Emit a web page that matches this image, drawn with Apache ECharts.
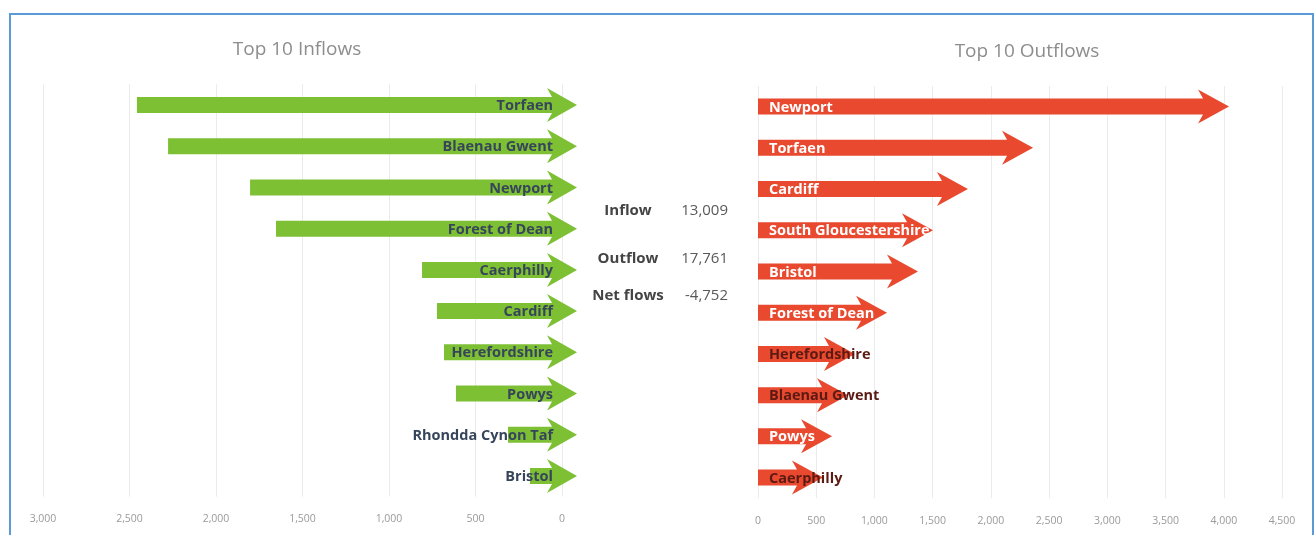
<!DOCTYPE html>
<html>
<head>
<meta charset="utf-8">
<script src="https://cdn.jsdelivr.net/npm/echarts@6/dist/echarts.min.js"></script>
<style>
html,body{margin:0;padding:0;background:#fff;}
#chart{width:1316px;height:535px;}
</style>
</head>
<body>
<div id="chart"></div>
<script>
// ---- data ----
const inflowNames = ['Torfaen','Blaenau Gwent','Newport','Forest of Dean','Caerphilly','Cardiff','Herefordshire','Powys','Rhondda Cynon Taf','Bristol'];
const inflowValues = [2457, 2277, 1803, 1653, 809, 723, 682, 613, 312, 185];
const outflowNames = ['Newport','Torfaen','Cardiff','South Gloucestershire','Bristol','Forest of Dean','Herefordshire','Blaenau Gwent','Powys','Caerphilly'];
const outflowValues = [4045, 2362, 1803, 1503, 1374, 1108, 833, 773, 636, 558];
const outflowLabelDark = [false,false,false,false,false,false,true,true,false,true];
const summaryLabels = ['Inflow','Outflow','Net flows'];
const summaryValues = ['13,009','17,761','-4,752'];
const titles = ['Top 10 Inflows','Top 10 Outflows'];

const GREEN = '#7dc034';
const RED = '#e8492f';
const LABEL_FONT = '"Open Sans", sans-serif';

const chart = echarts.init(document.getElementById('chart'));
const fmt = v => v.toLocaleString('en-US');

function leftArrow(params, api) {
  const yi = api.value(1);
  const tail = api.coord([api.value(0), yi]);
  const zero = api.coord([0, yi]);
  const cy = zero[1];
  const sh = 8, hh = 17;
  const back = zero[0] - 15, tip = zero[0] + 15;
  return {
    type: 'group',
    children: [
      { type: 'polygon', shape: { points: [
          [tail[0], cy - sh], [back + 5, cy - sh], [back, cy - hh], [tip, cy],
          [back, cy + hh], [back + 5, cy + sh], [tail[0], cy + sh]
        ] }, style: { fill: GREEN } },
      { type: 'text', style: { text: inflowNames[params.dataIndex], x: zero[0] - 9, y: cy + 1,
          align: 'right', verticalAlign: 'middle', fill: '#37455a',
          fontFamily: LABEL_FONT, fontSize: 14.5, fontWeight: 700 } }
    ]
  };
}
function rightArrow(params, api) {
  const yi = api.value(1);
  const tipP = api.coord([api.value(0), yi]);
  const zero = api.coord([0, yi]);
  const cy = zero[1];
  const sh = 8, hh = 17;
  const tip = tipP[0], back = tip - 31;
  const dark = outflowLabelDark[params.dataIndex];
  return {
    type: 'group',
    children: [
      { type: 'polygon', shape: { points: [
          [zero[0], cy - sh], [back + 5, cy - sh], [back, cy - hh], [tip, cy],
          [back, cy + hh], [back + 5, cy + sh], [zero[0], cy + sh]
        ] }, style: { fill: RED } },
      { type: 'text', style: { text: outflowNames[params.dataIndex], x: zero[0] + 11, y: cy + 1,
          align: 'left', verticalAlign: 'middle', fill: dark ? '#5b1a12' : '#ffffff',
          fontFamily: LABEL_FONT, fontSize: 14.5, fontWeight: 700 } }
    ]
  };
}

const axisLabelStyle = { color: '#9a9a9a', fontSize: 10.5, fontFamily: LABEL_FONT, margin: 17, formatter: fmt };
const splitLineStyle = { show: true, lineStyle: { color: '#ebebeb', width: 1 } };

const summaryGraphics = [];
const summaryY = [211, 259, 296];
summaryLabels.forEach((t, i) => {
  summaryGraphics.push({ type: 'text', x: 628, y: summaryY[i],
    style: { text: t, align: 'center', verticalAlign: 'middle', fill: '#444444',
      fontFamily: LABEL_FONT, fontSize: 15, fontWeight: 700 } });
  summaryGraphics.push({ type: 'text', x: 728, y: summaryY[i],
    style: { text: summaryValues[i], align: 'right', verticalAlign: 'middle', fill: '#595959',
      fontFamily: LABEL_FONT, fontSize: 15, fontWeight: 400 } });
});

chart.setOption({
  animation: false,
  backgroundColor: '#ffffff',
  title: [
    { text: titles[0], left: 297, top: 40, textAlign: 'center', padding: 0,
      textStyle: { color: '#8d8d8d', fontSize: 19, fontWeight: 400, fontFamily: LABEL_FONT } },
    { text: titles[1], left: 1027, top: 42, textAlign: 'center', padding: 0,
      textStyle: { color: '#8d8d8d', fontSize: 19, fontWeight: 400, fontFamily: LABEL_FONT } }
  ],
  grid: [
    { left: 43, width: 519, top: 84.4, height: 412.2 },
    { left: 758, width: 524, top: 86, height: 412.2 }
  ],
  xAxis: [
    { gridIndex: 0, type: 'value', inverse: true, min: 0, max: 3000, interval: 500,
      axisLine: { show: false }, axisTick: { show: false }, axisLabel: axisLabelStyle, splitLine: splitLineStyle },
    { gridIndex: 1, type: 'value', min: 0, max: 4500, interval: 500,
      axisLine: { show: false }, axisTick: { show: false }, axisLabel: axisLabelStyle, splitLine: splitLineStyle }
  ],
  yAxis: [
    { gridIndex: 0, type: 'category', inverse: true, data: inflowNames, show: false },
    { gridIndex: 1, type: 'category', inverse: true, data: outflowNames, show: false }
  ],
  series: [
    { type: 'custom', xAxisIndex: 0, yAxisIndex: 0, renderItem: leftArrow, clip: false,
      encode: { x: 0, y: 1 }, data: inflowValues.map((v, i) => [v, i]) },
    { type: 'custom', xAxisIndex: 1, yAxisIndex: 1, renderItem: rightArrow, clip: false,
      encode: { x: 0, y: 1 }, data: outflowValues.map((v, i) => [v, i]) }
  ],
  graphic: [
    { type: 'rect', shape: { x: 10, y: 14, width: 1303, height: 540 },
      style: { fill: 'none', stroke: '#5b9bd5', lineWidth: 2 }, silent: true },
    ...summaryGraphics
  ]
});
</script>
</body>
</html>
